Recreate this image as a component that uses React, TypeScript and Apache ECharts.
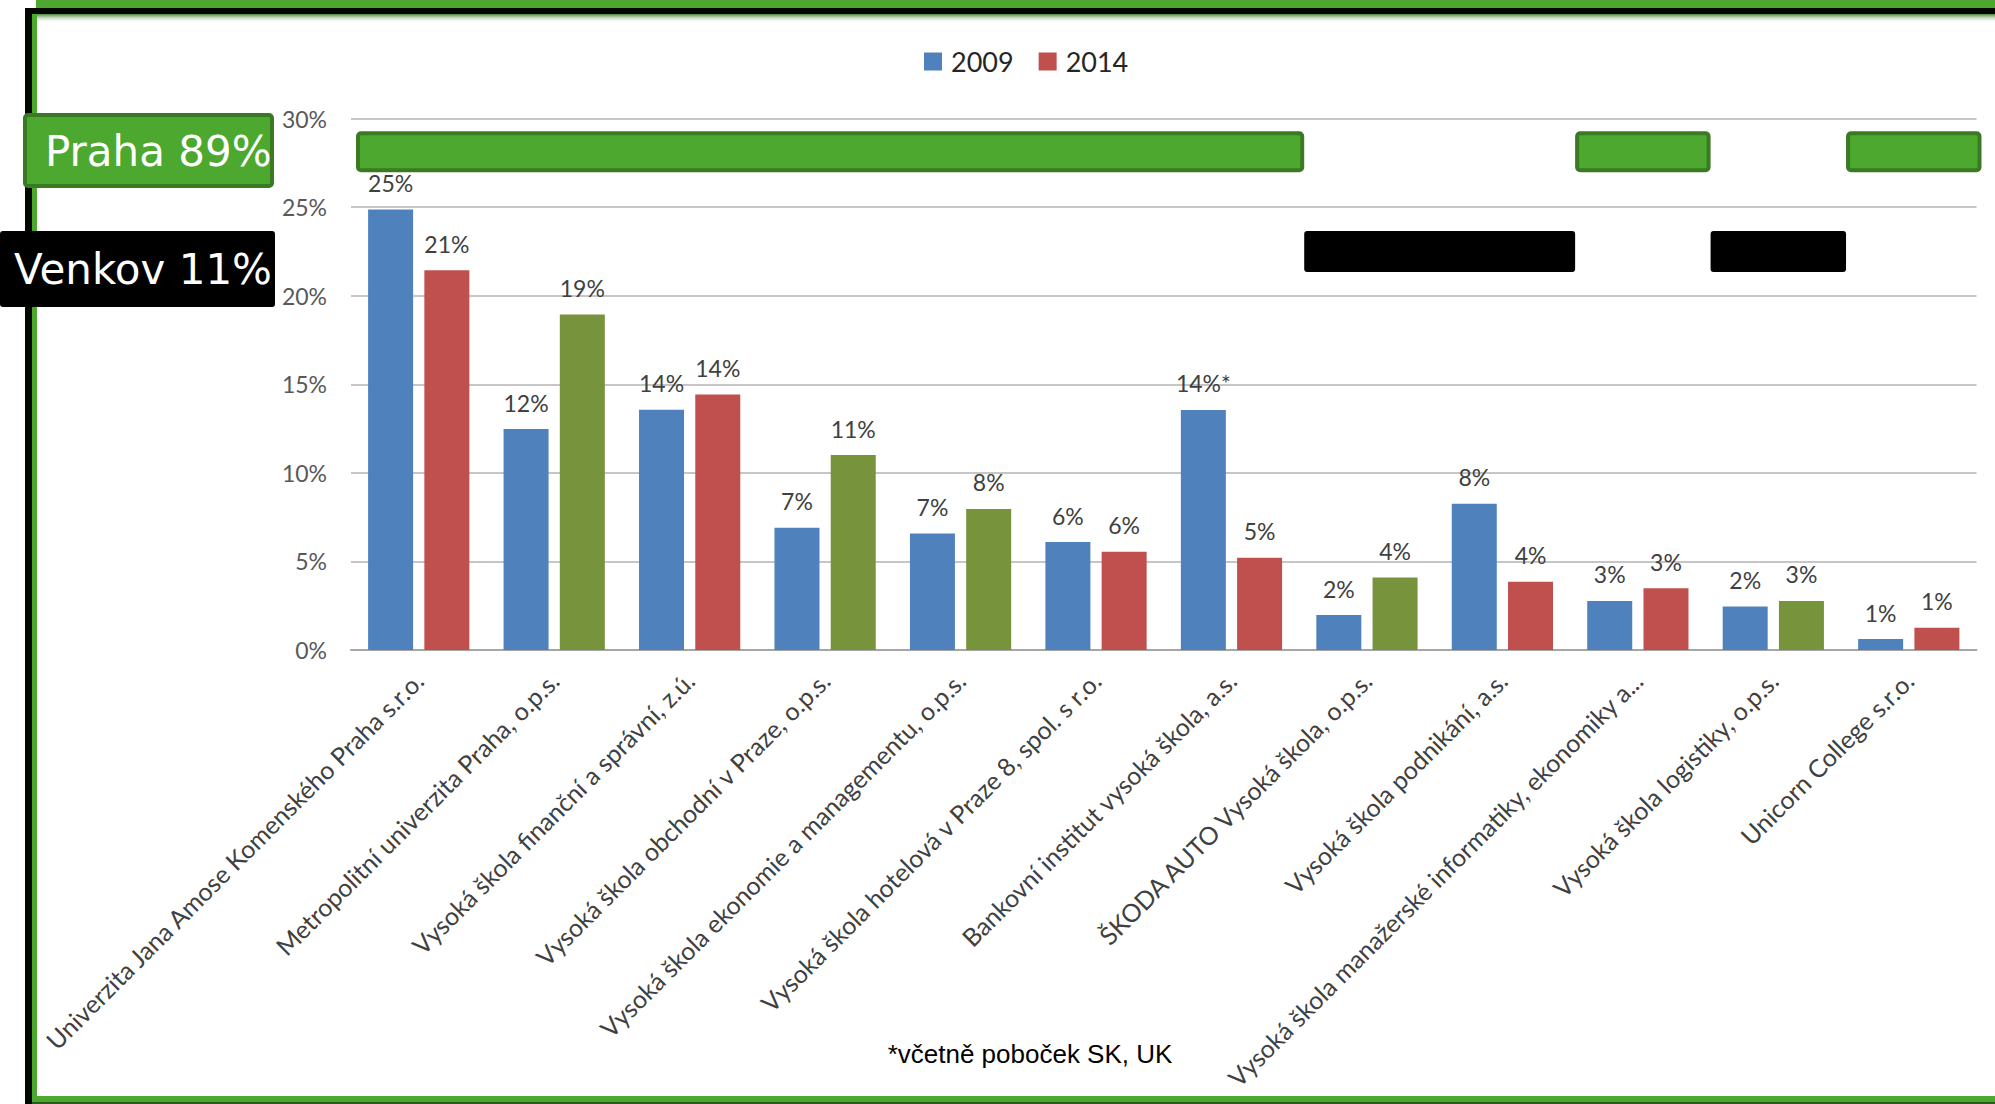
import React, { useEffect, useRef } from "react";
import * as echarts from "echarts";

// ---------- DATA ----------
const categories: string[] = [
  "Univerzita Jana Amose Komenského Praha s.r.o.",
  "Metropolitní univerzita Praha, o.p.s.",
  "Vysoká škola finanční a správní, z.ú.",
  "Vysoká škola obchodní v Praze, o.p.s.",
  "Vysoká škola ekonomie a managementu, o.p.s.",
  "Vysoká škola hotelová v Praze 8, spol. s r.o.",
  "Bankovní institut vysoká škola, a.s.",
  "ŠKODA AUTO Vysoká škola, o.p.s.",
  "Vysoká škola podnikání, a.s.",
  "Vysoká škola manažerské informatiky, ekonomiky a...",
  "Vysoká škola logistiky, o.p.s.",
  "Unicorn College s.r.o.",
];

const values2009: number[] = [24.86, 12.47, 13.56, 6.9, 6.58, 6.09, 13.55, 1.97, 8.26, 2.77, 2.45, 0.62];
const values2014: number[] = [21.43, 18.94, 14.42, 11.0, 7.96, 5.55, 5.2, 4.09, 3.85, 3.48, 2.77, 1.26];

// footnote markers appended to the 2009 labels
const labelMarks2009: string[] = ["", "", "", "", "", "", "*", "", "", "", "", ""];

// 2014 bars drawn in green for o.p.s. schools
const isOps: boolean[] = [false, true, false, true, true, false, false, true, false, false, true, false];

// region of each school (overlay bands)
const categoryRegion: string[] = [
  "Praha", "Praha", "Praha", "Praha", "Praha", "Praha", "Praha",
  "Venkov", "Venkov", "Praha", "Venkov", "Praha",
];

const regionNames: string[] = ["Praha", "Venkov"];
const regionShares: number[] = [89, 11];

const seriesNames: string[] = ["2009", "2014"];
const yMin = 0;
const yMax = 30;
const yInterval = 5;

const footnote = "*včetně poboček SK, UK";

// ---------- STYLE ----------
const BLUE = "#4F81BD";
const RED = "#C0504D";
const OLIVE = "#77933C";
const GREEN = "#4CA82F";
const GREEN_DARK = "#3A7A22";
const TEXT_DARK = "#404040";

// vertical band (in axis values) for each region's overlay bars
const REGION_BAND: Record<string, [number, number]> = {
  Praha: [27.08, 29.17],
  Venkov: [21.33, 23.65],
};
const REGION_SHIFT = 5;

function buildRuns() {
  const runs: number[][] = [];
  let start = 0;
  for (let i = 1; i <= categoryRegion.length; i++) {
    if (i === categoryRegion.length || categoryRegion[i] !== categoryRegion[start]) {
      runs.push([start, i - 1, regionNames.indexOf(categoryRegion[start])]);
      start = i;
    }
  }
  return runs;
}

function buildOption(): any {
  const runs = buildRuns();

  const frame: any[] = [
    { type: "rect", shape: { x: 36, y: 0, width: 1959, height: 8 }, style: { fill: GREEN }, z: 100 },
    { type: "rect", shape: { x: 25, y: 8, width: 1970, height: 6 }, style: { fill: "#030803" }, z: 100 },
    {
      type: "rect",
      shape: { x: 32, y: 14, width: 1963, height: 9 },
      style: {
        fill: {
          type: "linear", x: 0, y: 0, x2: 0, y2: 1,
          colorStops: [
            { offset: 0, color: "rgba(60,120,40,0.9)" },
            { offset: 1, color: "rgba(255,255,255,0)" },
          ],
        },
      },
      z: 100,
    },
    { type: "rect", shape: { x: 25, y: 8, width: 7, height: 1096 }, style: { fill: "#030803" }, z: 100 },
    { type: "rect", shape: { x: 32, y: 14, width: 5, height: 1088 }, style: { fill: GREEN }, z: 100 },
    { type: "rect", shape: { x: 32, y: 1096, width: 1963, height: 6 }, style: { fill: GREEN }, z: 100 },
    { type: "rect", shape: { x: 32, y: 1102, width: 1963, height: 2 }, style: { fill: "#2C5A1C" }, z: 100 },
  ];

  const boxes: any[] = [
    {
      type: "rect",
      shape: { x: 25, y: 115, width: 247, height: 71, r: 3 },
      style: { fill: GREEN, stroke: GREEN_DARK, lineWidth: 4 },
      z: 110,
    },
    {
      type: "text",
      x: 45,
      y: 151,
      style: {
        text: `${regionNames[0]} ${regionShares[0]}%`,
        fill: "#FFFFFF",
        font: '42px "DejaVu Sans"',
        verticalAlign: "middle",
        align: "left",
      },
      z: 111,
    },
    {
      type: "rect",
      shape: { x: 0, y: 231, width: 275, height: 76, r: 3 },
      style: { fill: "#000000" },
      z: 110,
    },
    {
      type: "text",
      x: 14,
      y: 269,
      style: {
        text: `${regionNames[1]} ${regionShares[1]}%`,
        fill: "#FFFFFF",
        font: '42px "DejaVu Sans"',
        verticalAlign: "middle",
        align: "left",
      },
      z: 111,
    },
    {
      type: "text",
      x: 1030,
      y: 1054,
      style: {
        text: footnote,
        fill: "#000000",
        font: '26px "Liberation Sans"',
        verticalAlign: "middle",
        align: "center",
      },
      z: 111,
    },
  ];

  return {
    animation: false,
    backgroundColor: "#FFFFFF",
    legend: {
      data: seriesNames,
      left: 919,
      top: 43,
      padding: 5,
      icon: "rect",
      itemWidth: 18,
      itemHeight: 18,
      itemGap: 25,
      textStyle: { fontFamily: "Lato", fontSize: 27, color: "#262626", padding: [0, 0, 0, 4] },
    },
    grid: { left: 351, right: 18.5, top: 118.5, bottom: 454 },
    xAxis: {
      type: "category",
      data: categories,
      axisTick: { show: false },
      axisLine: { lineStyle: { color: "#A6A6A6", width: 2 } },
      axisLabel: {
        interval: 0,
        rotate: 45,
        margin: 26,
        fontFamily: "Lato",
        fontSize: 25,
        color: TEXT_DARK,
      },
    },
    yAxis: {
      type: "value",
      min: yMin,
      max: yMax,
      interval: yInterval,
      axisLine: { show: false },
      axisTick: { show: false },
      axisLabel: {
        formatter: "{value}%",
        margin: 24,
        fontFamily: "Lato",
        fontSize: 23,
        color: "#595959",
      },
      splitLine: { lineStyle: { color: "#B3B3B3", width: 1.5 } },
    },
    series: [
      {
        name: seriesNames[0],
        type: "bar",
        barWidth: 45,
        barGap: "25%",
        itemStyle: { color: BLUE },
        data: values2009,
        label: {
          show: true,
          position: "top",
          distance: 15,
          fontFamily: "Lato",
          fontSize: 23,
          color: TEXT_DARK,
          formatter: (p: any) => `${Math.round(p.value)}%${labelMarks2009[p.dataIndex]}`,
        },
      },
      {
        name: seriesNames[1],
        type: "bar",
        barWidth: 45,
        barGap: "25%",
        itemStyle: { color: RED },
        data: values2014.map((v, i) => ({
          value: v,
          itemStyle: { color: isOps[i] ? OLIVE : RED },
        })),
        label: {
          show: true,
          position: "top",
          distance: 15,
          fontFamily: "Lato",
          fontSize: 23,
          color: TEXT_DARK,
          formatter: (p: any) => `${Math.round(p.value)}%`,
        },
      },
      {
        name: "regions",
        type: "custom",
        clip: false,
        z: 5,
        encode: { x: [0, 1], y: 2 },
        data: runs,
        renderItem: (params: any, api: any) => {
          const from = api.value(0);
          const to = api.value(1);
          const region = regionNames[api.value(2)];
          const half = api.size([1, 0])[0] / 2;
          const band = REGION_BAND[region];
          const x0 = api.coord([from, 0])[0] - half + REGION_SHIFT;
          const x1 = api.coord([to, 0])[0] + half + REGION_SHIFT;
          const yTop = api.coord([from, band[1]])[1];
          const yBot = api.coord([from, band[0]])[1];
          const isPraha = region === "Praha";
          return {
            type: "rect",
            shape: { x: x0 + (isPraha ? 2 : 0), y: yTop, width: x1 - x0 - (isPraha ? 4 : 0), height: yBot - yTop, r: 3 },
            style: isPraha
              ? { fill: GREEN, stroke: GREEN_DARK, lineWidth: 4 }
              : { fill: "#000000" },
          };
        },
      },
    ],
    graphic: { elements: [...frame, ...boxes] },
  };
}

export default function App() {
  const ref = useRef<HTMLDivElement>(null);
  useEffect(() => {
    if (!ref.current) return;
    const chart = echarts.init(ref.current, null, { renderer: "svg" });
    chart.setOption(buildOption());
    return () => chart.dispose();
  }, []);
  return (
    <div style={{ position: "absolute", left: 0, top: 0, width: 1995, height: 1104, background: "#FFFFFF" }}>
      <div ref={ref} style={{ width: 1995, height: 1104 }} />
    </div>
  );
}
